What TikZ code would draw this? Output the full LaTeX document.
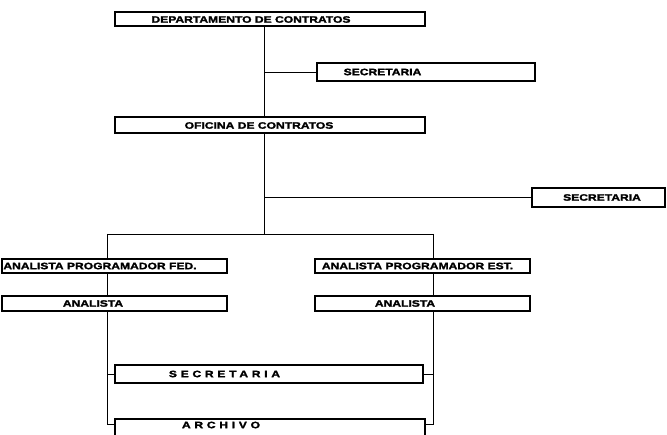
\documentclass[tikz,border=0pt]{standalone}
\usepackage{fontspec}
\newfontfamily\rotulo[FakeStretch=1.3, BoldFeatures={FakeBold=2}]{Liberation Sans}
\usetikzlibrary{calc, positioning}
\tikzset{
    caja/.style={draw, line width=2pt, inner sep=0pt},
    linea/.style={line width=0.9pt},
    rotulo/.style={inner sep=0pt, font=\rotulo\bfseries\fontsize{9.3}{10}\selectfont},
    espaciado/.style={rotulo, font=\rotulo\bfseries\fontsize{9.3}{10}\selectfont\addfontfeature{LetterSpace=40}}
}
\newcommand{\cargo}[7][rotulo]{
    \node[caja, minimum width=#4, minimum height=#5] (#2) at (#3) {};
    \node[#1] (#2-t) at ($(#2.center) + (#6, 0)$) {#7};
}

\begin{document}
\begin{tikzpicture}[x=1pt, y=-1pt]
    \useasboundingbox[fill=white] (0,0) rectangle (667,435);
    \clip (0,0) rectangle (667,435);
    \cargo{dep}{270,19.5}{310}{14}{-19}{DEPARTAMENTO DE CONTRATOS}
    \cargo{sec1}{426,72}{218}{18}{-43.5}{SECRETARIA}
    \cargo{ofi}{270,125.5}{310}{16}{-11}{OFICINA DE CONTRATOS}
    \cargo{sec2}{598.5,197.5}{133}{19}{3.5}{SECRETARIA}
    \cargo{apf}{114.5,266}{225}{14}{-14.5}{ANALISTA PROGRAMADOR FED.}
    \cargo{ape}{422.5,266}{215}{14}{-5}{ANALISTA PROGRAMADOR EST.}
    \cargo{an1}{114.5,303.5}{225}{15}{-21.5}{ANALISTA}
    \cargo{an2}{422.5,303.5}{215}{15}{-17.5}{ANALISTA}
    \cargo[espaciado]{sec3}{269,374}{308}{18}{-44.5}{SECRETARIA}
    \node[caja, minimum width=310, minimum height=26] (arch) at (270,432) {};
    \node[espaciado] (arch-t) at ($(arch.north) + (-49, 7)$) {ARCHIVO};
    \coordinate (tronco) at (264,234);
    \coordinate (ramaI) at (107,234);
    \coordinate (ramaD) at (433,234);
    \coordinate (archI) at ($(arch.north west) + (0, 6)$);
    \coordinate (archD) at ($(arch.north east) + (0, 6)$);
    \draw[linea]
    (tronco |- dep.south) -- (tronco |- ofi.north)
    (tronco |- sec1.west) -- (sec1.west)
    (tronco |- ofi.south) -- (tronco)
    (tronco |- sec2.west) -- (sec2.west)
    (ramaI) -- (ramaD)
    (ramaI) -- (ramaI |- apf.north)
    (ramaI |- apf.south) -- (ramaI |- an1.north)
    (ramaI |- an1.south) |- (sec3.west)
    (ramaI |- sec3.west) |- (archI)
    (ramaD) -- (ramaD |- ape.north)
    (ramaD |- ape.south) -- (ramaD |- an2.north)
    (ramaD |- an2.south) |- (sec3.east)
    (ramaD |- sec3.east) |- (archD);
\end{tikzpicture}
\end{document}
